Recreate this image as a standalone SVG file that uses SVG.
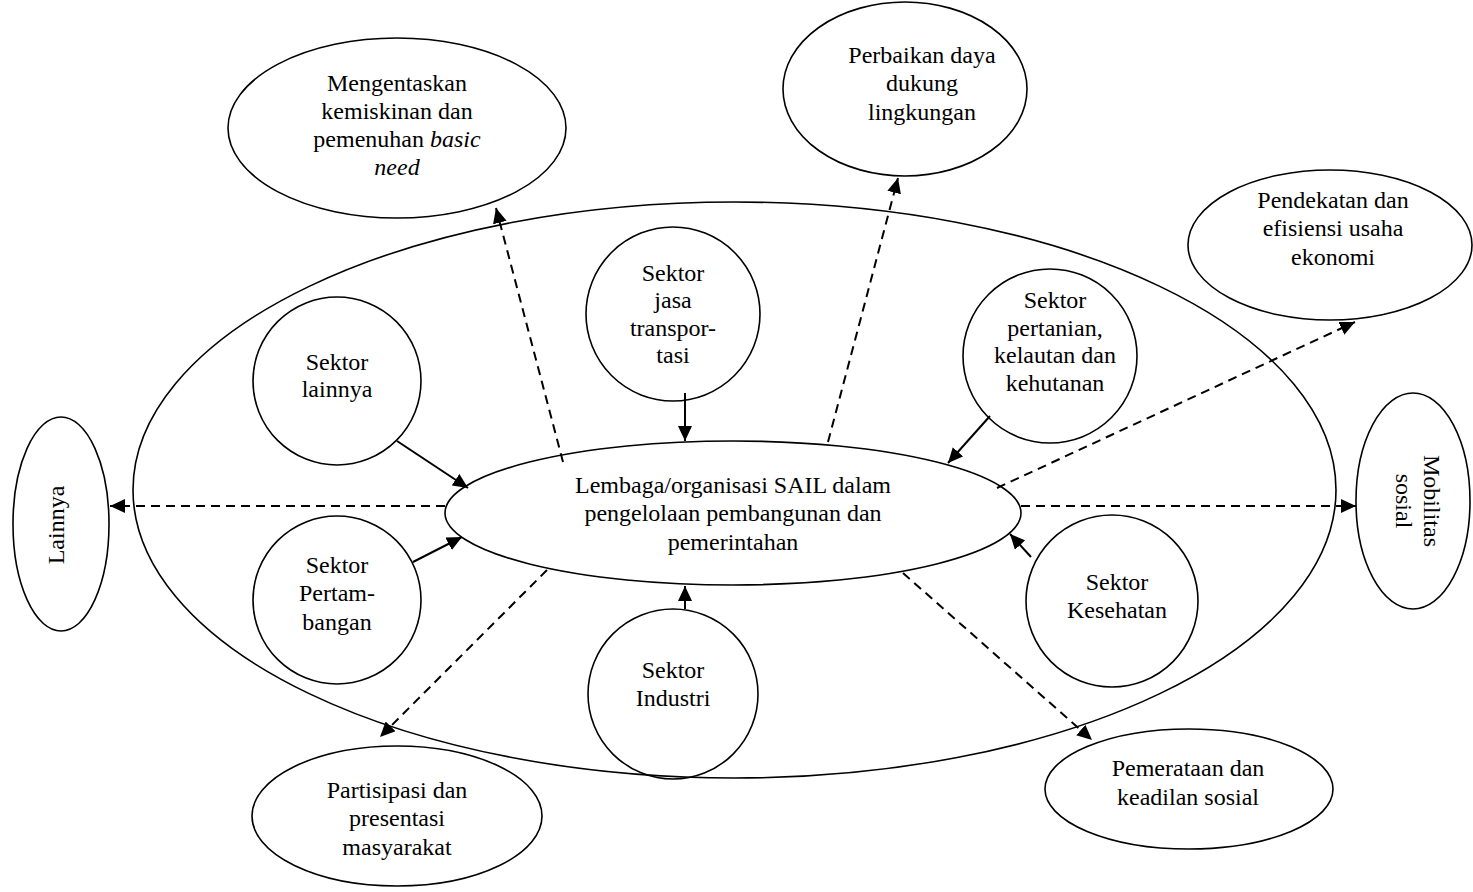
<svg xmlns="http://www.w3.org/2000/svg" width="1473" height="892" viewBox="0 0 1473 892">
<style>
.sh{fill:none;stroke:#000;stroke-width:1.6}
.t{font-family:"Liberation Serif","Times New Roman",serif;font-size:24px;fill:#000;text-anchor:middle}
.i{font-style:italic}
.c{stroke:#000;stroke-width:2;fill:none}
.d{stroke-dasharray:9 6}
</style>
<defs>
<marker id="ah" markerUnits="userSpaceOnUse" markerWidth="16" markerHeight="14" refX="15" refY="7" orient="auto">
<path d="M0,0 L15,7 L0,14 Z" fill="#000"/>
</marker>
</defs>
<rect width="1473" height="892" fill="#fff"/>
<g id="outer"><ellipse class="sh" cx="734.5" cy="490" rx="601.5" ry="288"/></g>
<g id="center"><ellipse class="sh" cx="733" cy="513" rx="288" ry="72"/>
<text class="t" x="733" y="493">Lembaga/organisasi SAIL dalam</text>
<text class="t" x="733" y="521">pengelolaan pembangunan dan</text>
<text class="t" x="733" y="550">pemerintahan</text></g>
<g id="mengentaskan"><ellipse class="sh" cx="397" cy="128" rx="169" ry="90"/>
<text class="t" x="397" y="91">Mengentaskan</text>
<text class="t" x="397" y="119">kemiskinan dan</text>
<text class="t" x="397" y="147">pemenuhan <tspan class="i">basic</tspan></text>
<text class="t i" x="397" y="175">need</text></g>
<g id="perbaikan"><ellipse class="sh" cx="905" cy="89" rx="122" ry="87"/>
<text class="t" x="922" y="63">Perbaikan daya</text>
<text class="t" x="922" y="91">dukung</text>
<text class="t" x="922" y="120">lingkungan</text></g>
<g id="pendekatan"><ellipse class="sh" cx="1330" cy="245" rx="142" ry="75"/>
<text class="t" x="1333" y="208">Pendekatan dan</text>
<text class="t" x="1333" y="236">efisiensi usaha</text>
<text class="t" x="1333" y="265">ekonomi</text></g>
<g id="mobilitas"><ellipse class="sh" cx="1413" cy="501" rx="57" ry="108"/>
<text class="t" transform="translate(1424 501) rotate(90)">Mobilitas</text>
<text class="t" transform="translate(1396 501) rotate(90)">sosial</text></g>
<g id="lainnya-out"><ellipse class="sh" cx="61" cy="524" rx="48" ry="107"/>
<text class="t" transform="translate(64 525) rotate(-90)">Lainnya</text></g>
<g id="partisipasi"><ellipse class="sh" cx="397" cy="816" rx="145" ry="70"/>
<text class="t" x="397" y="798">Partisipasi dan</text>
<text class="t" x="397" y="826">presentasi</text>
<text class="t" x="397" y="855">masyarakat</text></g>
<g id="pemerataan"><ellipse class="sh" cx="1189" cy="789" rx="144" ry="60"/>
<text class="t" x="1188" y="776">Pemerataan dan</text>
<text class="t" x="1188" y="805">keadilan sosial</text></g>
<g id="s-lainnya"><circle class="sh" cx="337" cy="381" r="84"/>
<text class="t" x="337" y="370">Sektor</text>
<text class="t" x="337" y="397">lainnya</text></g>
<g id="s-jasa"><circle class="sh" cx="673" cy="314" r="87"/>
<text class="t" x="673" y="281">Sektor</text>
<text class="t" x="673" y="308">jasa</text>
<text class="t" x="673" y="336">transpor-</text>
<text class="t" x="673" y="363">tasi</text></g>
<g id="s-pertanian"><circle class="sh" cx="1050" cy="356" r="87"/>
<text class="t" x="1055" y="308">Sektor</text>
<text class="t" x="1055" y="336">pertanian,</text>
<text class="t" x="1055" y="363">kelautan dan</text>
<text class="t" x="1055" y="391">kehutanan</text></g>
<g id="s-pertambangan"><circle class="sh" cx="337" cy="600" r="84"/>
<text class="t" x="337" y="573">Sektor</text>
<text class="t" x="337" y="601">Pertam-</text>
<text class="t" x="337" y="630">bangan</text></g>
<g id="s-kesehatan"><circle class="sh" cx="1112" cy="601" r="86"/>
<text class="t" x="1117" y="590">Sektor</text>
<text class="t" x="1117" y="618">Kesehatan</text></g>
<g id="s-industri"><circle class="sh" cx="673" cy="694" r="85"/>
<text class="t" x="673" y="678">Sektor</text>
<text class="t" x="673" y="706">Industri</text></g>
<g id="connectors">
<line class="c d" x1="563" y1="462" x2="496" y2="208" marker-end="url(#ah)"/>
<line class="c d" x1="828" y1="442" x2="898" y2="178" marker-end="url(#ah)"/>
<line class="c d" x1="997" y1="488" x2="1355" y2="322" marker-end="url(#ah)"/>
<line class="c d" x1="1021" y1="506" x2="1356" y2="506" marker-end="url(#ah)"/>
<line class="c d" x1="903" y1="573" x2="1092" y2="740" marker-end="url(#ah)"/>
<line class="c d" x1="547" y1="570" x2="380" y2="737" marker-end="url(#ah)"/>
<line class="c d" x1="445" y1="506" x2="110" y2="506" marker-end="url(#ah)"/>
<line class="c" x1="397" y1="441" x2="468" y2="488" marker-end="url(#ah)"/>
<line class="c" x1="413" y1="562" x2="462" y2="537" marker-end="url(#ah)"/>
<line class="c" x1="685" y1="393" x2="685" y2="441" marker-end="url(#ah)"/>
<line class="c" x1="990" y1="416" x2="948" y2="463" marker-end="url(#ah)"/>
<line class="c" x1="1031" y1="557" x2="1010" y2="534" marker-end="url(#ah)"/>
<line class="c" x1="685" y1="609" x2="685" y2="586" marker-end="url(#ah)"/>
</g>
</svg>
